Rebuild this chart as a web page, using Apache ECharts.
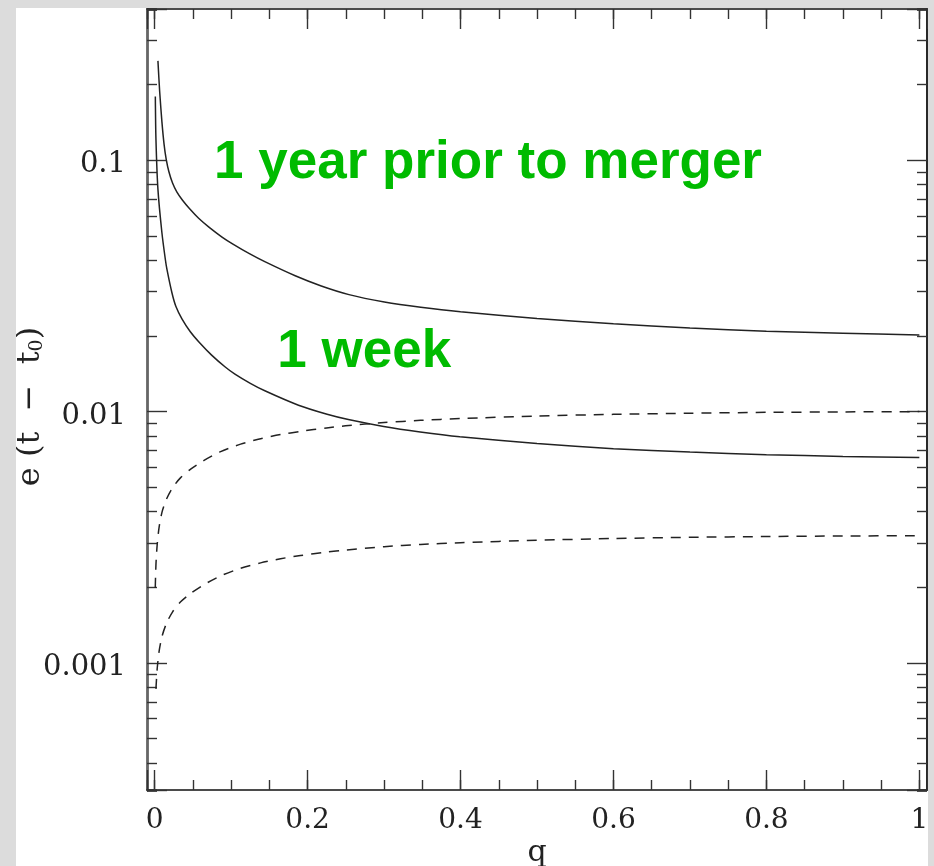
<!DOCTYPE html>
<html><head><meta charset="utf-8">
<script src="https://cdn.jsdelivr.net/npm/echarts@6/dist/echarts.min.js"></script>
<style>
html,body{margin:0;padding:0;background:#dcdcdc;width:934px;height:866px;overflow:hidden}
#chart{position:absolute;left:16px;top:8px;width:912px;height:858px;background:#fff}
</style></head><body><div id="chart"></div>
<script>
// ---- data ----
const yearQ = [0.0043, 0.00654, 0.00954, 0.01229, 0.01503, 0.01856, 0.0234, 0.02915, 0.03647, 0.04575, 0.05752, 0.07137, 0.0881, 0.1024, 0.1239, 0.1447, 0.1838, 0.2179, 0.2541, 0.3004, 0.348, 0.4, 0.5, 0.6, 0.7, 0.8, 0.9, 1.0];
const yearE = [0.2487, 0.1883, 0.1418, 0.1160, 0.1013, 0.0902, 0.0812, 0.0747, 0.0693, 0.0641, 0.0588, 0.0541, 0.0495, 0.0464, 0.0425, 0.0394, 0.0347, 0.0316, 0.0292, 0.0273, 0.0260, 0.02494, 0.02347, 0.02236, 0.02151, 0.02090, 0.02049, 0.02018];

const weekQ = [0.0009, 0.0017, 0.0043, 0.0095, 0.0140, 0.0161, 0.0226, 0.0277, 0.0357, 0.0464, 0.0582, 0.0745, 0.0923, 0.1050, 0.1251, 0.1448, 0.1881, 0.2255, 0.2533, 0.2995, 0.3473, 0.3992, 0.5, 0.6, 0.7, 0.8, 0.9, 1.0];
const weekE = [0.1794, 0.1213, 0.0766, 0.0515, 0.0403, 0.0368, 0.0297, 0.02624, 0.02338, 0.02083, 0.01888, 0.01678, 0.01505, 0.01410, 0.01296, 0.01207, 0.01060, 0.00976, 0.00930, 0.00873, 0.00830, 0.00794, 0.00746, 0.00712, 0.00690, 0.00674, 0.00663, 0.00656];

const yearDashQ = [0.0008, 0.0017, 0.0033, 0.0059, 0.0098, 0.0157, 0.0235, 0.0340, 0.0471, 0.0641, 0.0863, 0.1124, 0.1386, 0.1647, 0.1908, 0.2248, 0.2497, 0.3, 0.3477, 0.4, 0.5, 0.6, 0.7, 0.8, 0.9, 1.0];
const yearDashE = [0.00199, 0.00246, 0.00295, 0.00348, 0.00400, 0.00450, 0.00498, 0.00546, 0.00590, 0.00638, 0.00693, 0.00742, 0.00780, 0.00810, 0.00834, 0.00861, 0.00878, 0.00904, 0.00923, 0.00938, 0.00960, 0.00975, 0.00985, 0.00993, 0.00997, 0.01000];

const weekDashQ = [0.0017, 0.0033, 0.0059, 0.0098, 0.0157, 0.0235, 0.0340, 0.0471, 0.0641, 0.0863, 0.1124, 0.1386, 0.1647, 0.1908, 0.2248, 0.2497, 0.3, 0.3477, 0.4, 0.5, 0.6, 0.7, 0.8, 0.9, 1.0];
const weekDashE = [0.000788, 0.000946, 0.001116, 0.00128, 0.001443, 0.001597, 0.00175, 0.00189, 0.002045, 0.00222, 0.00238, 0.00250, 0.002597, 0.002674, 0.00276, 0.002813, 0.00290, 0.002958, 0.003007, 0.003076, 0.003125, 0.00316, 0.003183, 0.003198, 0.003207];

const xTickLabels = ['0', '0.2', '0.4', '0.6', '0.8', '1'];
const yTickLabels = ['0.001', '0.01', '0.1'];
const yMinorMultipliers = [2, 3, 4, 5, 6, 7, 8, 9];

const annotations = [
  {text: '1 year prior to merger', q: 0.436, e: 0.0968},
  {text: '1 week', q: 0.274, e: 0.01725}
];

// ---- axis ranges ----
const xMin = -0.01, xMax = 1.01;
const yMin = 0.000312, yMax = 0.4;

const labelFont = 'DejaVu Serif';
const ink = '#222';

function pair(qs, es) { return qs.map((q, i) => [q, es[i]]); }

function xAxisDef(pos, major) {
  return {
    type: 'value', position: pos, min: xMin, max: xMax,
    splitNumber: major ? 5 : 20,
    axisLine: {show: major, onZero: false, lineStyle: {color: '#111', width: 1.6}},
    axisTick: {show: true, inside: true, length: major ? 20 : 10, lineStyle: {color: '#333', width: 1.4}},
    axisLabel: {show: major && pos === 'bottom', margin: 17, color: ink, fontFamily: labelFont, fontSize: 28,
      formatter: v => {
        const k = Math.round(v / 0.2);
        return (Math.abs(v - k * 0.2) < 1e-6 && k >= 0 && k < xTickLabels.length) ? xTickLabels[k] : '';
      }},
    splitLine: {show: false}, minorTick: {show: false},
    name: (major && pos === 'bottom') ? 'q' : '',
    nameLocation: 'middle', nameGap: 48, nameMoveOverlap: false,
    nameTextStyle: {color: ink, fontFamily: labelFont, fontSize: 30}
  };
}

function yAxisDef(pos, mult) {
  const major = mult === 1;
  const left = pos === 'left';
  return {
    type: 'log', logBase: 10, position: pos, min: yMin / mult, max: yMax / mult,
    axisLine: {show: major, onZero: false, lineStyle: left ? {color: '#666', width: 2.8} : {color: '#111', width: 1.8}},
    axisTick: {show: true, inside: true, length: major ? 20 : 10, lineStyle: {color: '#333', width: 1.4}},
    axisLabel: {show: major && left, margin: 21, color: ink, fontFamily: labelFont, fontSize: 29,
      formatter: v => {
        const p = Math.log10(v);
        const k = Math.round(p);
        return (Math.abs(p - k) < 1e-6 && k >= -3 && k <= -1) ? '{t|' + yTickLabels[k + 3] + '}' : '';
      },
      rich: {t: {fontFamily: labelFont, fontSize: 29, color: ink, padding: [9, 0, 0, 0]}}},
    splitLine: {show: false}, minorTick: {show: false},
    name: (major && left) ? 'e (t  −  t{sub|0})' : '',
    nameLocation: 'middle', nameGap: 100, nameMoveOverlap: false,
    nameTextStyle: {color: ink, fontFamily: labelFont, fontSize: 32, padding: [0, 14, 0, 0],
      rich: {sub: {fontFamily: labelFont, fontSize: 19, color: ink, verticalAlign: 'bottom', padding: [12, 0, 0, 0]}}}
  };
}

const xAxes = [xAxisDef('bottom', true), xAxisDef('bottom', false), xAxisDef('top', true), xAxisDef('top', false)];
const yAxes = [yAxisDef('left', 1)]
  .concat(yMinorMultipliers.map(m => yAxisDef('left', m)))
  .concat([yAxisDef('right', 1)])
  .concat(yMinorMultipliers.map(m => yAxisDef('right', m)));

const lineBase = {type: 'line', xAxisIndex: 0, yAxisIndex: 0, showSymbol: false, symbol: 'none',
  smooth: 0.25, silent: true, z: 3};

const series = [
  Object.assign({}, lineBase, {name: 'year', data: pair(yearQ, yearE), lineStyle: {color: ink, width: 1.5}}),
  Object.assign({}, lineBase, {name: 'week', data: pair(weekQ, weekE), lineStyle: {color: ink, width: 1.5}}),
  Object.assign({}, lineBase, {name: 'yearDash', data: pair(yearDashQ, yearDashE), lineStyle: {color: ink, width: 1.5, type: [10, 8]}}),
  Object.assign({}, lineBase, {name: 'weekDash', data: pair(weekDashQ, weekDashE), lineStyle: {color: ink, width: 1.5, type: [10, 8]}})
].concat(annotations.map(a => ({
  type: 'scatter', xAxisIndex: 0, yAxisIndex: 0, silent: true, symbolSize: 1,
  itemStyle: {color: 'rgba(0,0,0,0)', opacity: 1},
  data: [[a.q, a.e]],
  label: {show: true, position: 'inside', formatter: a.text, color: '#00bb00', opacity: 1,
    textBorderWidth: 0, textBorderColor: 'transparent', textShadowBlur: 0,
    fontFamily: 'Liberation Sans', fontWeight: 'bold', fontSize: 53}
})));

const chart = echarts.init(document.getElementById('chart'), null, {renderer: 'canvas'});
chart.setOption({
  animation: false,
  backgroundColor: '#ffffff',
  grid: {left: 131, top: 1, right: 1, bottom: 76, show: false, containLabel: false, outerBoundsMode: 'none'},
  xAxis: xAxes,
  yAxis: yAxes,
  series: series
});
</script></body></html>
